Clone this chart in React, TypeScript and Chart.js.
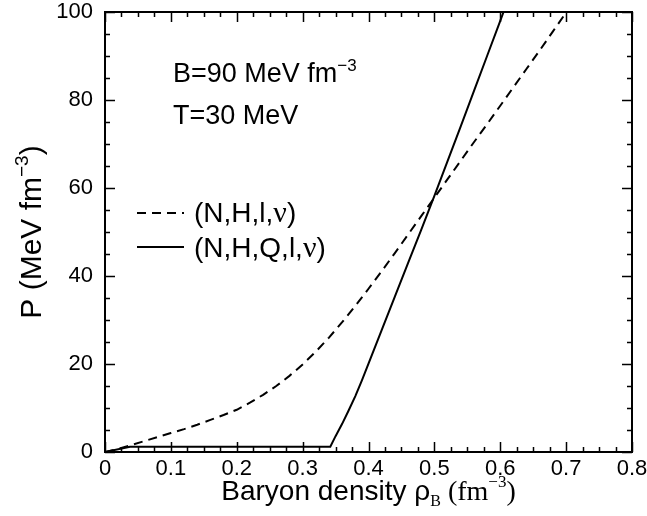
import { useEffect, useRef } from 'react';
import { Chart, registerables } from 'chart.js';

Chart.register(...registerables);

// Pressure vs. baryon density, B = 90 MeV fm^-3, T = 30 MeV
// Hadronic matter (N,H,l,nu)
const densityHadronic = [0, 0.02, 0.04, 0.06, 0.08, 0.1, 0.12, 0.14, 0.16, 0.18, 0.2, 0.22, 0.24, 0.26, 0.28, 0.3, 0.32, 0.34, 0.36, 0.38, 0.4, 0.42, 0.44, 0.46, 0.48, 0.5, 0.52, 0.54, 0.56, 0.58, 0.6, 0.62, 0.64, 0.66, 0.68, 0.7];
const pressureHadronic = [0, 0.7, 1.6, 2.5, 3.4, 4.3, 5.2, 6.2, 7.3, 8.4, 9.6, 11.2, 13.0, 15.0, 17.3, 19.9, 22.8, 26.0, 29.5, 33.2, 37.1, 41.1, 45.2, 49.4, 53.6, 57.8, 62.0, 66.2, 70.4, 74.5, 78.7, 82.9, 87.1, 91.3, 95.6, 99.9];

// Hadron-quark mixed matter (N,H,Q,l,nu)
const densityMixed = [0, 0.038, 0.342, 0.35, 0.36, 0.37, 0.38, 0.39, 0.4, 0.42, 0.44, 0.46, 0.48, 0.5, 0.52, 0.54, 0.56, 0.58, 0.6, 0.605];
const pressureMixed = [0, 1.2, 1.2, 3.6, 6.4, 9.5, 12.7, 16.3, 20.1, 27.7, 35.3, 42.9, 50.5, 58.2, 66.1, 74.0, 82.0, 90.0, 98.0, 100];

const xMin = 0;
const xMax = 0.8;
const xMajorStep = 0.1;
const xMinorStep = 0.025;
const yMin = 0;
const yMax = 100;
const yMajorStep = 20;
const yMinorStep = 5;

const legendLabels = ['(N,H,l,', '(N,H,Q,l,'];

const SANS = '"Liberation Sans", Arial, Helvetica, sans-serif';
const SERIF = '"Liberation Serif", "Times New Roman", serif';

type Run = { text: string; font: string; dy?: number };

function drawRuns(ctx: CanvasRenderingContext2D, runs: Run[], x: number, y: number, align: 'left' | 'center') {
  ctx.textAlign = 'left';
  ctx.textBaseline = 'alphabetic';
  let total = 0;
  for (const r of runs) {
    ctx.font = r.font;
    total += ctx.measureText(r.text).width;
  }
  let cx = align === 'center' ? x - total / 2 : x;
  for (const r of runs) {
    ctx.font = r.font;
    ctx.fillText(r.text, cx, y + (r.dy || 0));
    cx += ctx.measureText(r.text).width;
  }
}

const framePlugin = {
  id: 'frameAndText',
  afterDatasetsDraw(chart: any) {
    const { ctx, chartArea: a } = chart;
    const xs = chart.scales.x;
    const ys = chart.scales.y;
    ctx.save();
    ctx.strokeStyle = '#000';
    ctx.fillStyle = '#000';
    ctx.setLineDash([]);

    // inward ticks on all four sides
    ctx.lineWidth = 1.5;
    const nx = Math.round((xMax - xMin) / xMinorStep);
    for (let i = 0; i <= nx; i++) {
      const v = xMin + i * xMinorStep;
      const px = Math.round(xs.getPixelForValue(v)) + 0.5;
      const len = i % Math.round(xMajorStep / xMinorStep) === 0 ? 10 : 5;
      ctx.beginPath();
      ctx.moveTo(px, a.bottom);
      ctx.lineTo(px, a.bottom - len);
      ctx.moveTo(px, a.top);
      ctx.lineTo(px, a.top + len);
      ctx.stroke();
    }
    const ny = Math.round((yMax - yMin) / yMinorStep);
    for (let i = 0; i <= ny; i++) {
      const v = yMin + i * yMinorStep;
      const py = Math.round(ys.getPixelForValue(v)) + 0.5;
      const len = i % Math.round(yMajorStep / yMinorStep) === 0 ? 10 : 5;
      ctx.beginPath();
      ctx.moveTo(a.left, py);
      ctx.lineTo(a.left + len, py);
      ctx.moveTo(a.right, py);
      ctx.lineTo(a.right - len, py);
      ctx.stroke();
    }

    // frame
    ctx.lineWidth = 2;
    ctx.strokeRect(a.left, a.top, a.right - a.left, a.bottom - a.top);

    // annotations
    const big = `27px ${SANS}`;
    const sup = `17px ${SANS}`;
    drawRuns(ctx, [
      { text: 'B=90 MeV fm', font: big },
      { text: '\u22123', font: sup, dy: -11 },
    ], 173, 82, 'left');
    drawRuns(ctx, [{ text: 'T=30 MeV', font: big }], 173, 124, 'left');

    // legend
    const leg = `28px ${SANS}`;
    ctx.lineWidth = 2;
    ctx.setLineDash([9, 6]);
    ctx.beginPath();
    ctx.moveTo(137, 213);
    ctx.lineTo(184, 213);
    ctx.stroke();
    ctx.setLineDash([]);
    ctx.beginPath();
    ctx.moveTo(137, 247);
    ctx.lineTo(184, 247);
    ctx.stroke();
    drawRuns(ctx, [
      { text: legendLabels[0], font: leg },
      { text: '\u03bd', font: `30px ${SERIF}` },
      { text: ')', font: leg },
    ], 194, 222, 'left');
    drawRuns(ctx, [
      { text: legendLabels[1], font: leg },
      { text: '\u03bd', font: `30px ${SERIF}` },
      { text: ')', font: leg },
    ], 194, 257, 'left');

    // x axis title
    const cxTitle = (a.left + a.right) / 2;
    drawRuns(ctx, [
      { text: 'Baryon density \u03c1', font: `28px ${SANS}` },
      { text: 'B', font: `16px ${SERIF}`, dy: 6 },
      { text: ' (fm', font: `28px ${SERIF}` },
      { text: '\u22123', font: `17px ${SERIF}`, dy: -13 },
      { text: ')', font: `28px ${SERIF}` },
    ], cxTitle, 500, 'center');

    // y axis title
    ctx.save();
    ctx.translate(41, (a.top + a.bottom) / 2);
    ctx.rotate(-Math.PI / 2);
    drawRuns(ctx, [
      { text: 'P (MeV fm', font: `30px ${SANS}` },
      { text: '\u22123', font: `19px ${SANS}`, dy: -13 },
      { text: ')', font: `30px ${SANS}` },
    ], 0, 0, 'center');
    ctx.restore();

    ctx.restore();
  },
};

export default function App() {
  const canvasRef = useRef<HTMLCanvasElement | null>(null);

  useEffect(() => {
    const canvas = canvasRef.current;
    if (!canvas) return;
    const chart = new Chart(canvas, {
      type: 'scatter',
      data: {
        datasets: [
          {
            label: '(N,H,l,\u03bd)',
            data: densityHadronic.map((x, i) => ({ x, y: pressureHadronic[i] })),
            showLine: true,
            borderColor: '#000',
            borderWidth: 2,
            borderDash: [9, 6],
            pointRadius: 0,
            tension: 0,
            fill: false,
          },
          {
            label: '(N,H,Q,l,\u03bd)',
            data: densityMixed.map((x, i) => ({ x, y: pressureMixed[i] })),
            showLine: true,
            borderColor: '#000',
            borderWidth: 2,
            pointRadius: 0,
            tension: 0,
            fill: false,
          },
        ],
      },
      options: {
        responsive: false,
        animation: false,
        devicePixelRatio: 1,
        layout: { padding: { top: 12, right: 15, left: 0, bottom: 0 } },
        plugins: {
          legend: { display: false },
          tooltip: { enabled: false },
        },
        scales: {
          x: {
            type: 'linear',
            min: xMin,
            max: xMax,
            grid: { display: false, drawTicks: false },
            border: { display: false },
            ticks: {
              stepSize: xMajorStep,
              padding: 4,
              color: '#000',
              font: { family: SANS, size: 22 },
              maxRotation: 0,
              autoSkip: false,
              callback: (v: any) => String(Math.round(Number(v) * 10) / 10),
            },
            afterFit: (s: any) => {
              s.height = 64;
              s.paddingLeft = 0;
              s.paddingRight = 0;
            },
          },
          y: {
            type: 'linear',
            min: yMin,
            max: yMax,
            grid: { display: false, drawTicks: false },
            border: { display: false },
            ticks: {
              stepSize: yMajorStep,
              padding: 12,
              color: '#000',
              font: { family: SANS, size: 22 },
              autoSkip: false,
            },
            afterFit: (s: any) => {
              s.width = 105;
              s.paddingTop = 0;
              s.paddingBottom = 0;
            },
          },
        },
      },
      plugins: [framePlugin],
    });
    return () => chart.destroy();
  }, []);

  return (
    <div style={{ position: 'absolute', left: 0, top: 0, width: 647, height: 516, background: '#fff' }}>
      <canvas ref={canvasRef} width={647} height={516} />
    </div>
  );
}
